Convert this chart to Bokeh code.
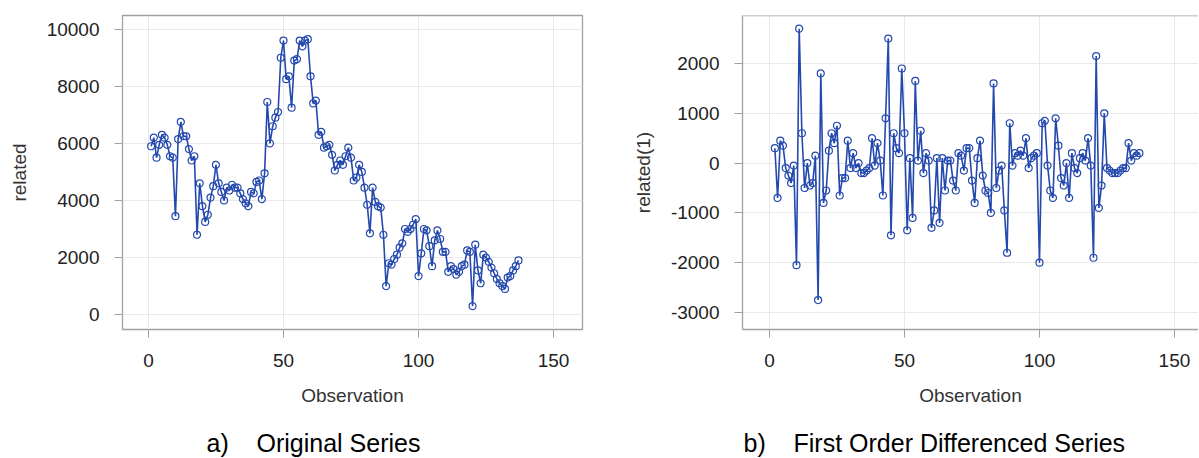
import numpy as np
from bokeh.plotting import figure
from bokeh.layouts import row, column
from bokeh.models import FixedTicker, Span, Range1d, CustomJSTickFormatter
from bokeh.core.properties import value
from bokeh.embed import file_html
from bokeh.resources import INLINE

# ---------------- data ----------------
observation = list(range(1, 138))
related = [
    5900, 6200, 5500, 5950, 6300, 6200, 5950, 5550, 5500, 3450,
    6150, 6750, 6250, 6250, 5800, 5400, 5550, 2800, 4600, 3800,
    3250, 3500, 4100, 4500, 5250, 4600, 4300, 4000, 4450, 4350,
    4550, 4450, 4450, 4250, 4050, 3900, 3800, 4300, 4250, 4650,
    4700, 4050, 4950, 7450, 6000, 6600, 6900, 7100, 9000, 9600,
    8250, 8350, 7250, 8900, 8950, 9600, 9400, 9600, 9650, 8350,
    7400, 7500, 6300, 6400, 5850, 5900, 5950, 5600, 5050, 5250,
    5400, 5250, 5550, 5850, 5500, 4700, 4800, 5250, 5000, 4450,
    3850, 2850, 4450, 3950, 3800, 3750, 2800, 1000, 1800, 1750,
    1950, 2100, 2350, 2500, 3000, 2900, 3000, 3150, 3350, 1350,
    2150, 3000, 2950, 2400, 1700, 2600, 2950, 2650, 2200, 2200,
    1500, 1700, 1600, 1400, 1500, 1700, 1750, 2250, 2200, 300,
    2450, 1550, 1100, 2100, 2000, 1850, 1650, 1450, 1250, 1100,
    1000, 900, 1300, 1350, 1550, 1700, 1900,
]
diff_observation = observation[1:]
related_diff = list(np.diff(related))

x_ticks = [0, 50, 100, 150]
y_ticks_left = [0, 2000, 4000, 6000, 8000, 10000]
y_ticks_right = [-3000, -2000, -1000, 0, 1000, 2000]
captions = ["a)\u00a0\u00a0\u00a0\u00a0Original Series",
            "b)\u00a0\u00a0\u00a0\u00a0First Order Differenced Series"]

FONT = "Liberation Sans"
BLUE = "#2449AE"
FRAME = "#a0a0a0"
GRID = "#e9e9e9"


def style(p, xlabel, ylabel, xt, yt):
    p.xaxis.ticker = FixedTicker(ticks=xt)
    p.yaxis.ticker = FixedTicker(ticks=yt)
    p.xgrid.ticker = FixedTicker(ticks=xt)
    p.ygrid.ticker = FixedTicker(ticks=yt)
    p.grid.grid_line_color = GRID
    p.grid.grid_line_width = 1
    for ax in (p.xaxis[0], p.yaxis[0]):
        ax.formatter = CustomJSTickFormatter(code="return tick.toFixed(0);")
        ax.major_tick_out = 8
        ax.major_tick_in = 0
        ax.major_tick_line_color = FRAME
        ax.minor_tick_line_color = None
        ax.axis_line_color = None
        ax.major_label_text_font = FONT
        ax.major_label_text_font_size = "19px"
        ax.major_label_text_color = "#222222"
        ax.axis_label_text_font = FONT
        ax.axis_label_text_font_size = "19px"
        ax.axis_label_text_font_style = "normal"
        ax.axis_label_text_color = "#333333"
    p.xaxis.axis_label = xlabel
    p.yaxis.axis_label = ylabel
    p.xaxis.major_label_standoff = 16
    p.yaxis.major_label_standoff = 15
    p.xaxis.axis_label_standoff = 15
    p.yaxis.axis_label_standoff = 14
    p.background_fill_color = "white"
    p.border_fill_color = "white"


# ---------------- left panel ----------------
p1 = figure(width=622, height=427, output_backend="svg", toolbar_location=None,
            x_range=Range1d(-9.6, 160.7), y_range=Range1d(-520, 10480),
            min_border_left=122, min_border_right=40,
            min_border_top=11, min_border_bottom=97)
style(p1, "Observation", "related", x_ticks, y_ticks_left)
p1.outline_line_color = FRAME
p1.outline_line_width = 1.3
p1.line(observation, related, line_color=BLUE, line_width=1.6)
p1.scatter(observation, related, marker="circle", size=7, line_color=BLUE,
           line_width=1.2, fill_color=None)

# ---------------- right panel ----------------
p2 = figure(width=576, height=427, output_backend="svg", toolbar_location=None,
            x_range=Range1d(-10, 158.9), y_range=Range1d(-3341, 2964),
            min_border_left=120, min_border_right=0,
            min_border_top=15, min_border_bottom=98)
style(p2, "Observation", "related(1)", x_ticks, y_ticks_right)
p2.outline_line_color = None
p2.xaxis.axis_line_color = FRAME
p2.yaxis.axis_line_color = FRAME
p2.xaxis.axis_line_width = 1.3
p2.yaxis.axis_line_width = 1.3
p2.add_layout(Span(location=2964, dimension="width", line_color=FRAME, line_width=1.3))
p2.line(diff_observation, related_diff, line_color=BLUE, line_width=1.6)
p2.scatter(diff_observation, related_diff, marker="circle", size=7, line_color=BLUE,
           line_width=1.2, fill_color=None)

# ---------------- captions strip ----------------
pc = figure(width=1198, height=30, output_backend="svg", toolbar_location=None,
            x_range=Range1d(0, 1198), y_range=Range1d(0, 30),
            min_border=0, min_border_left=0, min_border_right=0,
            min_border_top=0, min_border_bottom=0)
pc.axis.visible = False
pc.grid.visible = False
pc.outline_line_color = None
pc.text(x=[206, 743], y=[15, 15], text=captions, text_align="left",
        text_baseline="middle", text_font=value(FONT), text_font_size="25px",
        text_color="#000000")

layout = column(row(p1, p2), pc)
open("out.html", "w").write(file_html(layout, INLINE))
